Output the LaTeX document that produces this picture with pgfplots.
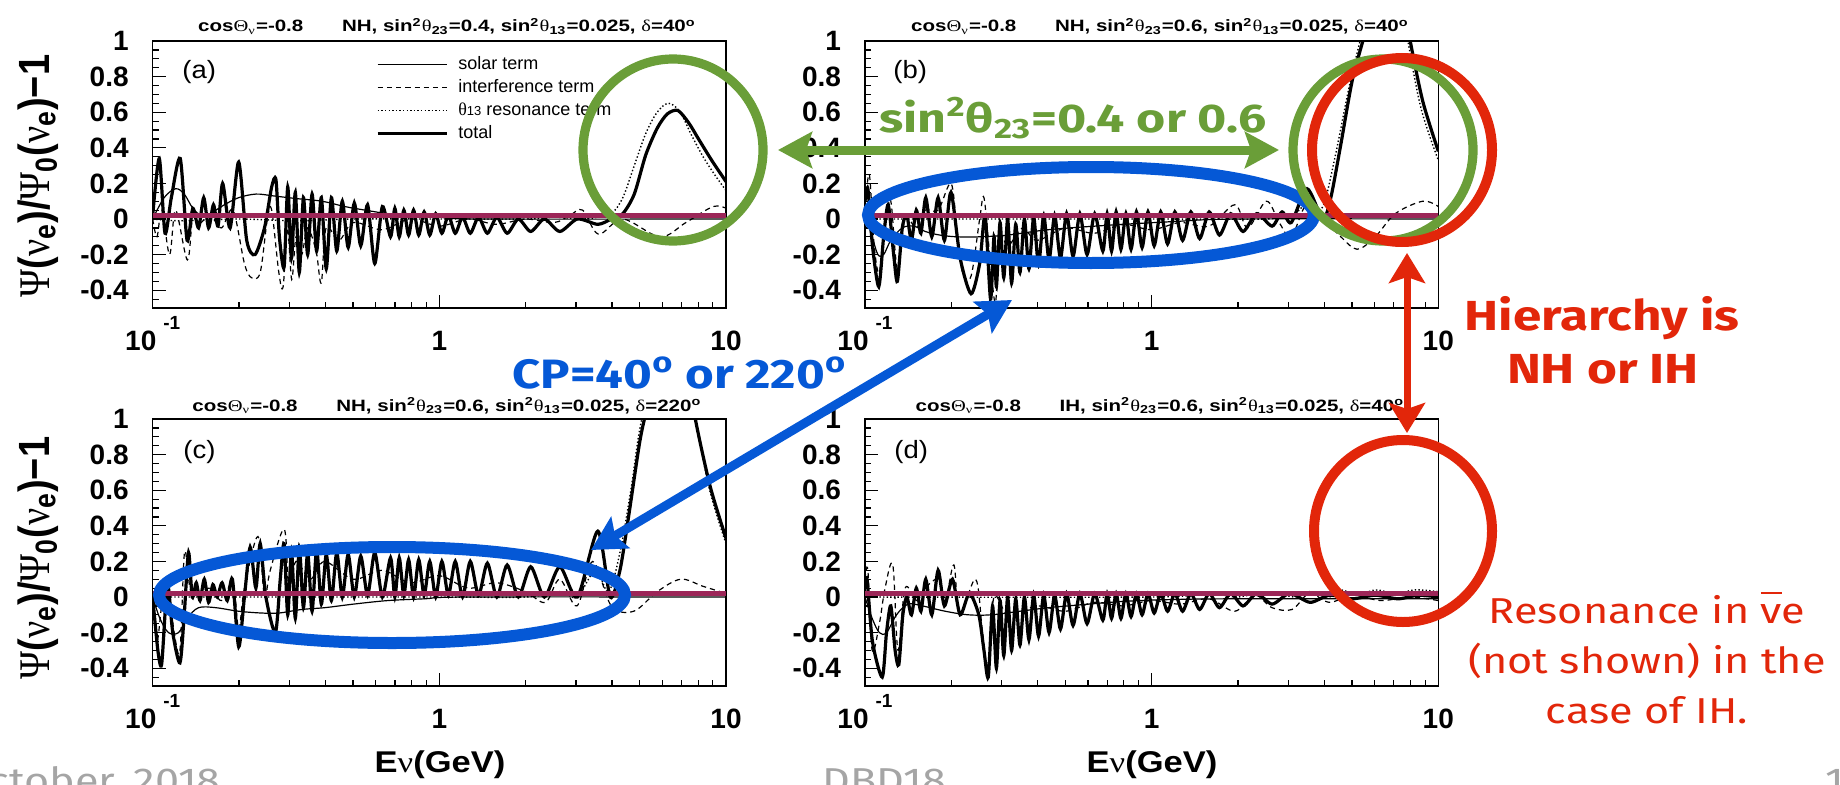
\documentclass[border=0pt]{standalone}
\usepackage{graphicx}
\usepackage{pgfplots}
\pgfplotsset{compat=1.18}
\usepackage{fontspec}
\setmainfont{Liberation Sans}
\newfontfamily\sym{Liberation Serif}
\newfontfamily\gill{Fira Sans}
\usetikzlibrary{arrows.meta}
\definecolor{annG}{RGB}{106,158,56}
\definecolor{annB}{RGB}{5,88,214}
\definecolor{annR}{RGB}{226,38,10}
\definecolor{zline}{RGB}{156,38,88}
\definecolor{foot}{RGB}{165,165,165}
\newcommand\sx[2][1.2]{\scalebox{#1}[1]{#2}}
\newcommand\gr[1]{{\sym\mdseries #1}}
\newcommand\ttl[4]{\sx[1.25]{\fontsize{8.2}{9}\selectfont\bfseries cos\gr{Θ}\textsubscript{\gr{ν}}=-0.8\hspace{15.5pt}#1, sin\textsuperscript{2}\gr{θ}\textsubscript{23}=#2, sin\textsuperscript{2}\gr{θ}\textsubscript{13}=0.025, \gr{δ}=#3\textsuperscript{o}}}

\pgfplotsset{
 panel/.style={
  scale only axis, width=286.65pt, height=133.5pt,
  xmin=-1, xmax=1, ymin=-0.5, ymax=1,
  xtick={-1,0,1},
  xticklabels={{\textbf{10}\hspace{3.5pt}\raisebox{10.5pt}{\fontsize{9.5}{9.5}\selectfont\bfseries -1}},\textbf{1},\textbf{10}},
  minor xtick={-0.699,-0.523,-0.398,-0.301,-0.222,-0.155,-0.097,-0.046,0.301,0.477,0.602,0.699,0.778,0.845,0.903,0.954},
  ytick={-0.4,-0.2,0,0.2,0.4,0.6,0.8,1},
  yticklabels={-0.4,-0.2,0,0.2,0.4,0.6,0.8,1},
  minor ytick={-0.45,-0.35,-0.3,-0.25,-0.15,-0.1,-0.05,0.05,0.1,0.15,0.25,0.3,0.35,0.45,0.5,0.55,0.65,0.7,0.75,0.85,0.9,0.95},
  xtick pos=left, ytick pos=left, tick align=inside,
  major tick length=6.5pt, minor tick length=3.2pt,
  every tick/.style={black, line width=0.6pt},
  axis line style={line width=0.7pt},
  ticklabel style={font=\fontsize{14}{14}\selectfont\bfseries},
  xticklabel style={anchor=base, yshift=-21pt},
  yticklabel style={xshift=-8.5pt},
  legend image code/.code={\draw[#1] (0pt,0pt) -- (34.5pt,0pt);},
 },
 solar/.style={black, line width=0.6pt, smooth, tension=0.55},
 interf/.style={black, line width=0.6pt, dash pattern=on 2.6pt off 2pt, smooth, tension=0.55},
 reson/.style={black, line width=0.7pt, dash pattern=on 0.7pt off 1.1pt, smooth, tension=0.55},
 total/.style={black, line width=1.6pt, smooth, tension=0.45},
 zl/.style={zline, line width=2.5pt, forget plot},
}

\begin{document}
\begin{tikzpicture}[x=0.5pt,y=0.5pt]
\path[use as bounding box] (0,0) rectangle (1840,784);

% ---------------- (a) ----------------
\begin{axis}[panel, at={(76.35pt,238pt)}, anchor=south west,
  legend style={at={(0.389,0.952)}, anchor=north west, draw=none, fill=none, inner sep=0pt,
    row sep=1.5pt, font=\fontsize{9}{10}\selectfont, cells={anchor=west},
    nodes={inner sep=0pt, text height=7.5pt, text depth=2.5pt},
    /tikz/every odd column/.append style={column sep=5pt}}]
\addplot[solar] coordinates {(-1.000,0.00) (-0.960,0.12) (-0.920,0.17) (-0.890,0.14) (-0.860,0.06) (-0.830,0.02) (-0.800,0.03) (-0.750,0.08) (-0.700,0.12) (-0.640,0.14) (-0.580,0.13) (-0.500,0.115) (-0.410,0.10) (-0.330,0.07) (-0.260,0.05) (-0.180,0.03) (-0.100,0.02) (0.000,0.01) (0.150,0.00) (1.000,0.00)};
\addlegendentry{solar term}
\addplot[interf] coordinates {(-1.000,0.00) (-0.985,-0.10) (-0.968,0.05) (-0.941,-0.20) (-0.920,0.05) (-0.879,-0.23) (-0.860,0.02) (-0.840,-0.03) (-0.800,0.02) (-0.760,-0.05) (-0.720,0.05) (-0.680,-0.25) (-0.655,-0.33) (-0.625,-0.30) (-0.600,0.00) (-0.585,0.05) (-0.560,-0.30) (-0.545,-0.38) (-0.530,-0.05) (-0.515,-0.34) (-0.500,-0.10) (-0.480,-0.20) (-0.460,-0.05) (-0.430,-0.18) (-0.412,-0.36) (-0.395,-0.05) (-0.350,-0.12) (-0.300,-0.02) (-0.200,-0.06) (-0.100,0.00) (0.000,-0.04) (0.100,0.00) (0.200,-0.03) (0.300,0.00) (0.400,-0.02) (0.455,0.02) (0.500,0.05) (0.555,-0.085) (0.640,0.00) (0.770,-0.10) (0.860,-0.02) (0.955,0.07) (1.000,0.06)};
\addlegendentry{interference term}
\addplot[reson] coordinates {(-1.000,0.00) (-0.900,-0.01) (-0.700,0.00) (-0.500,-0.01) (-0.300,0.00) (0.000,0.00) (0.300,0.00) (0.400,0.01) (0.500,0.00) (0.550,0.01) (0.600,0.03) (0.640,0.12) (0.680,0.30) (0.720,0.48) (0.760,0.60) (0.800,0.65) (0.840,0.60) (0.880,0.47) (0.920,0.35) (0.960,0.25) (1.000,0.16)};
\addlegendentry{\gr{θ}{\fontsize{6.5}{6.5}\selectfont 13} resonance term}
\addplot[total] coordinates {(-1.000,0.02) (-0.977,0.34) (-0.957,-0.08) (-0.935,0.12) (-0.904,0.34) (-0.880,-0.12) (-0.860,0.06) (-0.840,-0.05) (-0.822,0.12) (-0.805,-0.05) (-0.788,0.08) (-0.772,-0.04) (-0.756,0.20) (-0.730,-0.05) (-0.700,0.32) (-0.672,-0.12) (-0.643,-0.20) (-0.610,-0.05) (-0.585,0.18) (-0.570,0.22) (-0.558,-0.10)
(-0.5416,-0.27) (-0.5289,0.18) (-0.5159,-0.22) (-0.5024,0.15) (-0.4886,-0.30) (-0.4742,0.12) (-0.4594,-0.20) (-0.4440,0.14) (-0.4281,-0.18) (-0.4116,0.12) (-0.3945,-0.28)
(-0.3766,0.12) (-0.3579,-0.18) (-0.3385,0.10) (-0.3181,-0.16) (-0.2967,0.09) (-0.2742,-0.15) (-0.2504,0.08) (-0.2253,-0.25) (-0.1987,0.07) (-0.1703,-0.10)
(-0.1553,0.06) (-0.1399,-0.10) (-0.1239,0.05) (-0.1072,-0.09) (-0.0899,0.05) (-0.0719,-0.09) (-0.0531,0.04) (-0.0334,-0.09) (-0.0128,0.03) (0.0088,-0.08) (0.0315,0.02) (0.0555,-0.08) (0.0809,0.01) (0.1079,-0.08) (0.1367,0.01) (0.1675,-0.08) (0.2007,0.01) (0.2366,-0.08) (0.2757,0.00) (0.3188,-0.07) (0.3665,0.00) (0.4202,-0.07) (0.4815,0.00) (0.5528,-0.03)
(0.600,0.00) (0.640,0.03) (0.680,0.14) (0.720,0.36) (0.760,0.51) (0.795,0.59) (0.832,0.61) (0.870,0.54) (0.904,0.45) (0.950,0.33) (1.000,0.21)};
\addlegendentry{total}
\addplot[zl] coordinates {(-1,0.02) (1,0.02)};
\end{axis}

% ---------------- (b) ----------------
\begin{axis}[panel, at={(432.5pt,238pt)}, anchor=south west]
\addplot[solar] coordinates {(-1.000,0.02) (-0.975,-0.10) (-0.955,-0.20) (-0.935,-0.20) (-0.910,-0.12) (-0.870,-0.05) (-0.830,-0.04) (-0.790,-0.07) (-0.740,-0.09) (-0.680,-0.10) (-0.600,-0.10) (-0.500,-0.09) (-0.360,-0.06) (-0.150,-0.035) (0.070,-0.015) (0.300,0.00) (1.000,0.00)};
\addplot[interf] coordinates {(-1.000,0.05) (-0.985,0.25) (-0.968,-0.15) (-0.950,-0.30) (-0.930,0.00) (-0.910,0.10) (-0.887,-0.28) (-0.860,0.00) (-0.820,-0.05) (-0.790,0.05) (-0.745,0.05) (-0.700,0.20) (-0.680,-0.05) (-0.660,-0.30) (-0.630,-0.32) (-0.600,0.00) (-0.585,0.12) (-0.565,-0.20) (-0.545,-0.47) (-0.530,-0.10) (-0.500,-0.15) (-0.450,-0.05) (-0.400,-0.12) (-0.300,-0.05) (-0.200,-0.08) (-0.100,-0.03) (0.000,-0.06) (0.100,-0.02) (0.200,-0.04) (0.290,0.08) (0.335,-0.05) (0.400,0.10) (0.445,-0.02) (0.487,-0.10) (0.540,0.08) (0.600,0.00) (0.660,-0.10) (0.717,-0.17) (0.780,-0.10) (0.850,0.03) (0.946,0.10) (1.000,0.07)};
\addplot[reson] coordinates {(-1.000,0.00) (-0.500,0.00) (0.000,0.00) (0.400,0.00) (0.450,0.02) (0.500,0.03) (0.535,0.08) (0.565,0.05) (0.600,0.08) (0.640,0.35) (0.690,0.75) (0.730,1.02) (0.780,1.35) (0.820,1.50) (0.860,1.35) (0.894,1.00) (0.940,0.62) (1.000,0.33)};
\addplot[total] coordinates {(-1.000,0.10) (-0.990,0.17) (-0.974,-0.15) (-0.952,-0.38) (-0.935,-0.10) (-0.919,0.08) (-0.900,-0.20) (-0.887,-0.35) (-0.870,-0.05) (-0.854,0.02) (-0.838,-0.12) (-0.821,0.05) (-0.805,-0.08) (-0.788,0.12) (-0.767,-0.10) (-0.745,0.12) (-0.723,-0.12) (-0.700,0.15) (-0.668,-0.22) (-0.630,-0.42) (-0.600,-0.25) (-0.581,0.02) (-0.562,-0.45) (-0.550,-0.10)
(-0.5416,-0.38) (-0.5289,-0.02) (-0.5159,-0.33) (-0.5024,0.00) (-0.4886,-0.36) (-0.4742,-0.03) (-0.4594,-0.30) (-0.4440,0.00) (-0.4281,-0.28) (-0.4116,0.01) (-0.3945,-0.26)
(-0.3766,0.02) (-0.3579,-0.23) (-0.3385,0.02) (-0.3181,-0.22) (-0.2967,0.03) (-0.2742,-0.21) (-0.2504,0.03) (-0.2253,-0.20) (-0.1987,0.03) (-0.1703,-0.18)
(-0.1553,0.03) (-0.1399,-0.18) (-0.1239,0.04) (-0.1072,-0.17) (-0.0899,0.03) (-0.0719,-0.17) (-0.0531,0.04) (-0.0334,-0.16) (-0.0128,0.04) (0.0088,-0.15) (0.0315,0.04) (0.0555,-0.14) (0.0809,0.04) (0.1079,-0.12) (0.1367,0.04) (0.1675,-0.11) (0.2007,0.04) (0.2366,-0.09) (0.2757,0.03) (0.3188,-0.07) (0.3665,0.03) (0.4202,-0.04)
(0.455,0.04) (0.487,-0.02) (0.542,0.17) (0.597,0.00) (0.625,0.12) (0.660,0.42) (0.700,0.78) (0.745,1.05) (0.790,1.35) (0.830,1.45) (0.865,1.35) (0.902,1.00) (0.946,0.66) (1.000,0.38)};
\addplot[zl] coordinates {(-1,0.02) (1,0.02)};
\end{axis}

% ---------------- (c) ----------------
\begin{axis}[panel, at={(76.35pt,49pt)}, anchor=south west]
\addplot[solar] coordinates {(-1.000,0.00) (-0.975,-0.12) (-0.945,-0.20) (-0.910,-0.20) (-0.880,-0.12) (-0.840,-0.06) (-0.780,-0.06) (-0.700,-0.08) (-0.620,-0.09) (-0.560,-0.09) (-0.480,-0.07) (-0.400,-0.06) (-0.300,-0.04) (-0.180,-0.02) (-0.050,-0.01) (0.100,0.00) (1.000,0.00)};
\addplot[interf] coordinates {(-1.000,0.00) (-0.985,-0.25) (-0.965,0.00) (-0.945,0.05) (-0.925,-0.20) (-0.905,-0.30) (-0.889,0.25) (-0.870,0.05) (-0.850,0.02) (-0.800,0.05) (-0.760,-0.02) (-0.720,0.08) (-0.700,-0.18) (-0.680,0.05) (-0.633,0.34) (-0.610,0.00) (-0.590,0.15) (-0.541,0.38) (-0.525,0.05) (-0.500,0.20) (-0.450,0.10) (-0.400,0.20) (-0.300,0.10) (-0.200,0.15) (-0.100,0.08) (0.000,0.12) (0.100,0.05) (0.200,0.08) (0.300,0.03) (0.370,-0.03) (0.420,0.10) (0.480,-0.05) (0.535,0.20) (0.600,-0.05) (0.678,-0.08) (0.760,0.03) (0.842,0.10) (0.920,0.06) (1.000,0.02)};
\addplot[reson] coordinates {(-1.000,0.00) (-0.500,0.00) (0.000,0.00) (0.300,0.00) (0.420,0.03) (0.480,0.00) (0.545,0.15) (0.590,0.03) (0.630,0.25) (0.670,0.62) (0.700,0.95) (0.750,1.30) (0.800,1.55) (0.850,1.45) (0.890,1.05) (0.940,0.62) (1.000,0.30)};
\addplot[total] coordinates {(-1.000,0.00) (-0.982,-0.30) (-0.969,-0.38) (-0.955,-0.05) (-0.945,0.05) (-0.930,-0.20) (-0.905,-0.37) (-0.890,-0.10) (-0.875,0.25) (-0.862,0.00) (-0.848,0.08) (-0.835,-0.02) (-0.820,0.10) (-0.805,-0.03) (-0.790,0.07) (-0.775,0.00) (-0.758,0.08) (-0.740,-0.02) (-0.722,0.10) (-0.700,-0.28) (-0.680,0.00) (-0.660,0.28) (-0.640,0.05) (-0.625,0.30) (-0.605,0.00) (-0.572,-0.20) (-0.555,0.10)
(-0.5416,0.30) (-0.5289,-0.10) (-0.5159,0.26) (-0.5024,-0.12) (-0.4886,0.28) (-0.4742,-0.06) (-0.4594,0.25) (-0.4440,-0.08) (-0.4281,0.27) (-0.4116,-0.04) (-0.3945,0.24)
(-0.3766,-0.02) (-0.3579,0.25) (-0.3385,0.00) (-0.3181,0.24) (-0.2967,0.00) (-0.2742,0.23) (-0.2504,0.01) (-0.2253,0.25) (-0.1987,0.00) (-0.1703,0.22)
(-0.1553,0.00) (-0.1399,0.22) (-0.1239,0.01) (-0.1072,0.21) (-0.0899,0.00) (-0.0719,0.21) (-0.0531,0.01) (-0.0334,0.20) (-0.0128,0.00) (0.0088,0.20) (0.0315,0.01) (0.0555,0.20) (0.0809,0.00) (0.1079,0.20) (0.1367,0.01) (0.1675,0.19) (0.2007,0.00) (0.2366,0.18) (0.2757,0.00) (0.3188,0.17) (0.3665,0.00) (0.4202,0.17) (0.4815,0.00) (0.5528,0.37)
(0.596,0.00) (0.630,0.15) (0.660,0.45) (0.700,0.88) (0.730,1.10) (0.780,1.45) (0.820,1.55) (0.860,1.35) (0.893,1.00) (0.945,0.62) (1.000,0.33)};
\addplot[zl] coordinates {(-1,0.02) (1,0.02)};
\end{axis}

% ---------------- (d) ----------------
\begin{axis}[panel, at={(432.5pt,49pt)}, anchor=south west]
\addplot[solar] coordinates {(-1.000,0.00) (-0.975,-0.12) (-0.950,-0.20) (-0.925,-0.20) (-0.890,-0.10) (-0.850,-0.04) (-0.800,-0.05) (-0.720,-0.08) (-0.640,-0.10) (-0.560,-0.10) (-0.460,-0.08) (-0.360,-0.06) (-0.220,-0.04) (-0.100,-0.025) (0.050,-0.015) (0.300,-0.01) (1.000,-0.01)};
\addplot[interf] coordinates {(-1.000,0.10) (-0.990,0.15) (-0.975,-0.30) (-0.950,-0.15) (-0.930,0.05) (-0.903,0.18) (-0.885,-0.30) (-0.860,0.05) (-0.820,-0.02) (-0.790,0.05) (-0.745,0.10) (-0.720,-0.02) (-0.690,0.18) (-0.670,-0.10) (-0.614,0.10) (-0.590,-0.20) (-0.570,-0.40) (-0.550,0.00) (-0.500,-0.10) (-0.400,-0.05) (-0.300,-0.08) (-0.200,-0.03) (-0.100,-0.05) (0.000,-0.02) (0.100,-0.04) (0.200,-0.01) (0.290,-0.08) (0.360,0.01) (0.420,-0.06) (0.490,-0.07) (0.550,0.02) (0.620,-0.03) (0.700,0.01) (0.800,-0.02) (0.900,0.00) (1.000,-0.02)};
\addplot[reson] coordinates {(-1.000,0.00) (0.000,0.00) (0.200,0.02) (0.300,0.00) (0.400,0.03) (0.500,0.00) (0.550,0.03) (0.620,0.00) (0.660,0.04) (0.720,0.01) (0.780,0.04) (0.850,0.02) (0.920,0.04) (1.000,0.03)};
\addplot[total] coordinates {(-1.000,0.05) (-0.993,0.10) (-0.974,-0.25) (-0.940,-0.45) (-0.925,-0.20) (-0.910,-0.05) (-0.895,-0.30) (-0.882,-0.38) (-0.868,-0.10) (-0.854,0.00) (-0.838,-0.10) (-0.821,0.05) (-0.805,-0.08) (-0.788,0.10) (-0.767,-0.10) (-0.745,0.15) (-0.723,-0.05) (-0.695,0.10) (-0.668,-0.10) (-0.636,0.02) (-0.603,-0.10) (-0.585,-0.30) (-0.570,-0.45) (-0.555,-0.05)
(-0.5416,-0.40) (-0.5289,-0.02) (-0.5159,-0.33) (-0.5024,0.00) (-0.4886,-0.30) (-0.4742,-0.01) (-0.4594,-0.27) (-0.4440,0.00) (-0.4281,-0.24) (-0.4116,0.01) (-0.3945,-0.22)
(-0.3766,0.01) (-0.3579,-0.20) (-0.3385,0.01) (-0.3181,-0.18) (-0.2967,0.02) (-0.2742,-0.16) (-0.2504,0.02) (-0.2253,-0.15) (-0.1987,0.02) (-0.1703,-0.13)
(-0.1553,0.02) (-0.1399,-0.12) (-0.1239,0.02) (-0.1072,-0.12) (-0.0899,0.02) (-0.0719,-0.11) (-0.0531,0.02) (-0.0334,-0.10) (-0.0128,0.02) (0.0088,-0.09) (0.0315,0.02) (0.0555,-0.08) (0.0809,0.02) (0.1079,-0.08) (0.1367,0.02) (0.1675,-0.07) (0.2007,0.02) (0.2366,-0.06) (0.2757,0.02) (0.3188,-0.05) (0.3665,0.02) (0.4202,-0.04) (0.4815,0.02) (0.5528,-0.03)
(0.620,0.01) (0.700,-0.01) (0.780,0.01) (0.860,-0.01) (0.930,0.01) (1.000,0.00)};
\addplot[zl] coordinates {(-1,0.02) (1,0.02)};
\end{axis}

% ---- titles ----
\node[anchor=base, inner sep=0pt] at (447,752) {\ttl{NH}{0.4}{40}{}};
\node[anchor=base, inner sep=0pt] at (1160,752) {\ttl{NH}{0.6}{40}{}};
\node[anchor=base, inner sep=0pt] at (447,373) {\ttl{NH}{0.6}{220}{}};
\node[anchor=base, inner sep=0pt] at (1160,373) {\ttl{IH}{0.6}{40}{}};

% ---- panel letters ----
\node[anchor=west, inner sep=0pt] at (182,712) {\sx[1.1]{\fontsize{12.5}{12.5}\selectfont (a)}};
\node[anchor=west, inner sep=0pt] at (893,712) {\sx[1.1]{\fontsize{12.5}{12.5}\selectfont (b)}};
\node[anchor=west, inner sep=0pt] at (183,332) {\sx[1.1]{\fontsize{12.5}{12.5}\selectfont (c)}};
\node[anchor=west, inner sep=0pt] at (894,332) {\sx[1.1]{\fontsize{12.5}{12.5}\selectfont (d)}};

% ---- axis labels ----
\node[rotate=90, inner sep=0pt] at (38,608) {\scalebox{1}[1.15]{\fontsize{19}{19}\selectfont\bfseries \gr{Ψ}(\gr{ν}\textsubscript{e})/\gr{Ψ}\textsubscript{0}(\gr{ν}\textsubscript{e})−1}};
\node[rotate=90, inner sep=0pt] at (38,226) {\scalebox{1}[1.15]{\fontsize{19}{19}\selectfont\bfseries \gr{Ψ}(\gr{ν}\textsubscript{e})/\gr{Ψ}\textsubscript{0}(\gr{ν}\textsubscript{e})−1}};
\node[anchor=base, inner sep=0pt] at (440,12) {\sx[1.15]{\fontsize{15}{15}\selectfont\bfseries E\gr{ν}(GeV)}};
\node[anchor=base, inner sep=0pt] at (1152,12) {\sx[1.15]{\fontsize{15}{15}\selectfont\bfseries E\gr{ν}(GeV)}};

% ---- footer (cut by the page edge) ----
\node[anchor=base east, inner sep=0pt, text=foot] at (221,-9) {\sx[1.2]{\gill\fontsize{18}{18}\selectfont October, 2018}};
\node[anchor=base west, inner sep=0pt, text=foot] at (822,-9) {\sx[1.2]{\gill\fontsize{18}{18}\selectfont DBD18}};
\node[anchor=base west, inner sep=0pt, text=foot] at (1825,-9) {\sx[1.2]{\gill\fontsize{18}{18}\selectfont 13}};

% ---- annotations ----
\draw[annB, line width=6pt] (1091,569) ellipse [x radius=223, y radius=48];
\draw[annB, line width=6pt] (392,189) ellipse [x radius=233, y radius=48];
\draw[annG, line width=4.6pt] (673,634) ellipse [x radius=90, y radius=91];
\draw[annG, line width=4.6pt] (1383,634) ellipse [x radius=90, y radius=91];
\draw[annR, line width=5pt] (1402,634) ellipse [x radius=90, y radius=92];
\draw[annR, line width=5pt] (1403,253) ellipse [x radius=89, y radius=91];

\draw[annG, line width=4.5pt, {Stealth[length=17pt,width=18pt,inset=3pt]}-{Stealth[length=17pt,width=18pt,inset=3pt]}] (778,634) -- (1279,634);
\draw[annB, line width=4.5pt, {Stealth[length=17pt,width=18pt,inset=3pt]}-{Stealth[length=17pt,width=18pt,inset=3pt]}] (1012,484) -- (591,234);
\draw[annR, line width=3.5pt, {Stealth[length=15pt,width=18pt,inset=3pt]}-{Stealth[length=15pt,width=18pt,inset=3pt]}] (1407,531) -- (1407,351);

\node[anchor=base west, inner sep=0pt, text=annG] at (879,652) {\sx[1.25]{\gill\bfseries\fontsize{20}{20}\selectfont sin\textsuperscript{2}θ\textsubscript{23}=0.4 or 0.6}};
\node[anchor=base west, inner sep=0pt, text=annB] at (512,396) {\sx[1.2]{\gill\bfseries\fontsize{20.5}{20.5}\selectfont CP=40\textsuperscript{o} or 220\textsuperscript{o}}};
\node[anchor=base, inner sep=0pt, text=annR] at (1602,454) {\sx[1.22]{\gill\bfseries\fontsize{21}{21}\selectfont Hierarchy is}};
\node[anchor=base, inner sep=0pt, text=annR] at (1603,401) {\sx[1.22]{\gill\bfseries\fontsize{21}{21}\selectfont NH or IH}};
\node[anchor=base, inner sep=0pt, text=annR] at (1647,161) {\sx[1.2]{\gill\fontsize{18}{18}\selectfont Resonance in \makebox[0pt][l]{\raisebox{0.8em}{\rule{0.5em}{0.07em}}}ve}};
\node[anchor=base, inner sep=0pt, text=annR] at (1647,111) {\sx[1.2]{\gill\fontsize{18}{18}\selectfont (not shown) in the}};
\node[anchor=base, inner sep=0pt, text=annR] at (1647,61) {\sx[1.2]{\gill\fontsize{18}{18}\selectfont case of IH.}};
\end{tikzpicture}
\end{document}
